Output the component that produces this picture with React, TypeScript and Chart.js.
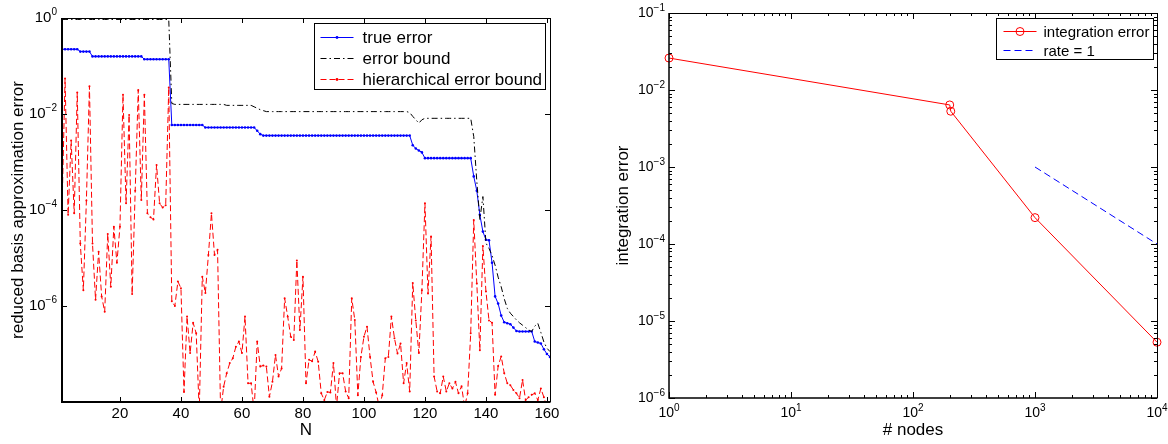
import React, { useEffect, useRef } from "react";
import { Chart, registerables } from "chart.js";

Chart.register(...registerables);

const FONT = '"Liberation Sans", Arial, Helvetica, sans-serif';
Chart.defaults.color = "#000";
Chart.defaults.font.family = FONT;

// ---------------- Left chart data ----------------
const N_VALUES: number[] = Array.from({ length: 161 }, (_, i) => i + 1);

// log10 of "true error"
const TRUE_ERROR_LOG10 = [
  -0.65, -0.65, -0.65, -0.65, -0.65, -0.65, -0.7, -0.7, -0.7, -0.7,
  -0.8, -0.8, -0.8, -0.8, -0.8, -0.8, -0.8, -0.8, -0.8, -0.8,
  -0.8, -0.8, -0.8, -0.8, -0.8, -0.8, -0.8, -0.86, -0.86, -0.86,
  -0.86, -0.86, -0.86, -0.86, -0.86, -0.86, -2.23, -2.23, -2.23, -2.23,
  -2.23, -2.23, -2.23, -2.23, -2.23, -2.23, -2.23, -2.28, -2.28, -2.28,
  -2.28, -2.28, -2.28, -2.28, -2.28, -2.28, -2.28, -2.28, -2.28, -2.28,
  -2.28, -2.28, -2.28, -2.28, -2.35, -2.42, -2.45, -2.45, -2.45, -2.45,
  -2.45, -2.45, -2.45, -2.45, -2.45, -2.45, -2.45, -2.45, -2.45, -2.45,
  -2.45, -2.45, -2.45, -2.45, -2.45, -2.45, -2.45, -2.45, -2.45, -2.45,
  -2.45, -2.45, -2.45, -2.45, -2.45, -2.45, -2.45, -2.45, -2.45, -2.45,
  -2.45, -2.45, -2.45, -2.45, -2.45, -2.45, -2.45, -2.45, -2.45, -2.45,
  -2.45, -2.45, -2.45, -2.45, -2.45, -2.65, -2.72, -2.76, -2.8, -2.92,
  -2.92, -2.92, -2.92, -2.92, -2.92, -2.92, -2.92, -2.92, -2.92, -2.92,
  -2.92, -2.92, -2.92, -2.92, -2.92, -3.3, -3.6, -4.1, -4.45, -4.62,
  -4.63, -5.1, -5.8, -5.95, -6.2, -6.34, -6.36, -6.38, -6.45, -6.52,
  -6.53, -6.53, -6.53, -6.53, -6.53, -6.74, -6.76, -6.78, -6.9, -7.0,
  -7.06,
];

// log10 of "error bound"
const ERROR_BOUND_LOG10 = [
  -0.03, -0.03, -0.03, -0.03, -0.03, -0.03, -0.03, -0.03, -0.03, -0.03,
  -0.03, -0.03, -0.03, -0.03, -0.03, -0.03, -0.03, -0.03, -0.03, -0.03,
  -0.03, -0.03, -0.03, -0.03, -0.03, -0.03, -0.03, -0.03, -0.03, -0.03,
  -0.03, -0.03, -0.03, -0.03, -0.03, -0.03, -1.78, -1.8, -1.8, -1.8,
  -1.8, -1.8, -1.8, -1.8, -1.8, -1.8, -1.8, -1.8, -1.8, -1.8,
  -1.8, -1.8, -1.8, -1.8, -1.82, -1.82, -1.82, -1.82, -1.82, -1.82,
  -1.82, -1.82, -1.82, -1.85, -1.88, -1.91, -1.93, -1.95, -1.95, -1.95,
  -1.95, -1.95, -1.95, -1.95, -1.95, -1.95, -1.95, -1.95, -1.95, -1.95,
  -1.95, -1.95, -1.95, -1.95, -1.95, -1.95, -1.95, -1.95, -1.95, -1.95,
  -1.95, -1.95, -1.95, -1.95, -1.95, -1.95, -1.95, -1.95, -1.95, -1.95,
  -1.95, -1.95, -1.95, -1.95, -1.95, -1.95, -1.95, -1.95, -1.95, -1.95,
  -1.95, -1.95, -1.95, -1.95, -1.97, -2.05, -2.12, -2.19, -2.12, -2.09,
  -2.09, -2.09, -2.09, -2.09, -2.09, -2.09, -2.09, -2.09, -2.09, -2.09,
  -2.09, -2.09, -2.09, -2.09, -2.09, -2.47, -3.4, -4.2, -3.72, -4.69,
  -4.8, -4.95, -5.15, -5.4, -5.6, -5.85, -6.05, -6.15, -6.22, -6.29,
  -6.35, -6.4, -6.45, -6.5, -6.53, -6.42, -6.36, -6.55, -6.75, -6.88,
  -6.95,
];

// log10 of "hierarchical error bound" (N = 1..160)
const HIER_BOUND_LOG10 = [
  -4.0, -1.26, -4.1, -2.55, -4.07, -1.55, -4.7, -5.67, -3.8, -1.42,
  -4.7, -5.87, -4.87, -5.8, -6.12, -4.5, -5.6, -4.35, -5.1, -4.35,
  -1.6, -3.86, -2.02, -5.75, -3.6, -1.5, -3.79, -1.6, -4.07, -4.15,
  -4.2, -3.06, -3.86, -3.95, -3.9, -1.45, -5.9, -6.0, -5.49, -5.63,
  -7.79, -6.22, -6.98, -6.35, -6.57, -8.2, -5.39, -5.73, -4.94, -4.07,
  -4.94, -4.83, -8.2, -7.68, -7.4, -7.19, -7.09, -6.85, -6.74, -6.98,
  -6.22, -7.61, -7.61, -8.2, -6.74, -7.26, -7.24, -7.26, -7.89, -7.58,
  -7.02, -7.47, -7.3, -5.84, -6.22, -6.64, -6.71, -5.05, -6.5, -5.39,
  -7.61, -7.12, -7.15, -6.95, -7.16, -7.82, -7.96, -7.79, -7.8, -7.19,
  -8.1, -7.4, -7.4, -7.78, -7.92, -5.84, -6.29, -7.86, -7.06, -6.64,
  -6.43, -7.06, -7.58, -7.8, -8.1, -7.86, -7.09, -7.06, -6.22, -6.67,
  -6.99, -6.78, -7.61, -7.19, -7.78, -5.52, -6.3, -6.98, -5.67, -3.86,
  -5.74, -4.55, -7.47, -7.78, -7.82, -7.47, -7.78, -7.61, -7.72, -7.58,
  -7.82, -7.67, -8.1, -7.82, -6.57, -4.21, -5.53, -6.92, -4.75, -5.7,
  -6.3, -6.35, -7.85, -7.25, -7.05, -7.4, -7.61, -7.65, -7.75, -7.82,
  -7.92, -7.54, -7.96, -7.9, -7.85, -7.82, -7.96, -7.72, -7.9, -8.1,
];

const LEFT_X_TICKS = [20, 40, 60, 80, 100, 120, 140, 160];
const LEFT_Y_TICK_EXP = [-8, -6, -4, -2, 0];
const LEFT_Y_LABEL_EXP = [-6, -4, -2, 0];
const LEFT_LEGEND = ["true error", "error bound", "hierarchical error bound"];

// ---------------- Right chart data ----------------
const NODES = [1, 200, 204, 1000, 10000];
const INTEGRATION_ERROR = [0.026, 0.0064, 0.0053, 0.00022, 0.0000053];
const RATE_NODES = [1000, 10000];
const RATE_VALUES = [0.001, 0.0001];
const RIGHT_X_TICK_EXP = [0, 1, 2, 3, 4];
const RIGHT_Y_TICK_EXP = [-6, -5, -4, -3, -2, -1];
const RIGHT_LEGEND = ["integration error", "rate = 1"];

const BLUE = "#0000ff";
const RED = "#ff0000";
const BLACK = "#000000";

function expText(e: number) {
  return e < 0 ? "\u2212" + String(-e) : String(e);
}

function minorLog(fromExp: number, toExp: number) {
  const out: number[] = [];
  for (let k = fromExp; k < toExp; k++) {
    for (let m = 2; m <= 9; m++) out.push(m * Math.pow(10, k));
  }
  return out;
}

type Lbl = { value: number; base: string; exp?: string };

function drawLabel(ctx: any, l: Lbl, x: number, y: number, align: string, bs: number, es: number, raise: number) {
  ctx.font = `${bs}px ${FONT}`;
  const wb = ctx.measureText(l.base).width;
  let we = 0;
  if (l.exp) {
    ctx.font = `${es}px ${FONT}`;
    we = ctx.measureText(l.exp).width;
  }
  const total = wb + we;
  const start = align === "right" ? x - total : x - total / 2;
  ctx.textAlign = "left";
  ctx.textBaseline = "middle";
  ctx.font = `${bs}px ${FONT}`;
  ctx.fillText(l.base, start, y);
  if (l.exp) {
    ctx.font = `${es}px ${FONT}`;
    ctx.fillText(l.exp, start + wb, y - raise);
  }
}

function axesPlugin(cfg: any) {
  return {
    id: "matlabAxes",
    afterDatasetsDraw(chart: any) {
      const { ctx, chartArea: a, scales } = chart;
      const xs = scales.x;
      const ys = scales.y;
      ctx.save();
      ctx.strokeStyle = BLACK;
      ctx.lineWidth = 1;
      ctx.setLineDash([]);
      ctx.beginPath();
      const tx = (v: number, len: number) => {
        const p = Math.round(xs.getPixelForValue(v)) + 0.5;
        ctx.moveTo(p, a.bottom);
        ctx.lineTo(p, a.bottom - len);
        ctx.moveTo(p, a.top);
        ctx.lineTo(p, a.top + len);
      };
      const ty = (v: number, len: number) => {
        const p = Math.round(ys.getPixelForValue(v)) + 0.5;
        ctx.moveTo(a.left, p);
        ctx.lineTo(a.left + len, p);
        ctx.moveTo(a.right, p);
        ctx.lineTo(a.right - len, p);
      };
      cfg.xMajor.forEach((v: number) => tx(v, cfg.majorLen));
      cfg.xMinor.forEach((v: number) => tx(v, cfg.minorLen));
      cfg.yMajor.forEach((v: number) => ty(v, cfg.majorLen));
      cfg.yMinor.forEach((v: number) => ty(v, cfg.minorLen));
      ctx.stroke();

      // frame
      ctx.lineWidth = 1;
      ctx.beginPath();
      ctx.moveTo(a.left, Math.round(a.top) + 0.5);
      ctx.lineTo(a.right, Math.round(a.top) + 0.5);
      ctx.moveTo(Math.round(a.right) + 0.5, a.top);
      ctx.lineTo(Math.round(a.right) + 0.5, a.bottom);
      ctx.stroke();
      ctx.lineWidth = cfg.thick;
      ctx.beginPath();
      ctx.moveTo(a.left, a.top);
      ctx.lineTo(a.left, a.bottom);
      ctx.lineTo(a.right + 0.5, a.bottom);
      ctx.stroke();

      // tick labels
      ctx.fillStyle = BLACK;
      cfg.xLabels.forEach((l: Lbl) => {
        drawLabel(ctx, l, xs.getPixelForValue(l.value), a.bottom + cfg.xLabelOffset, "center", cfg.baseSize, cfg.expSize, cfg.raise);
      });
      cfg.yLabels.forEach((l: Lbl) => {
        drawLabel(ctx, l, a.left - cfg.yLabelGap, ys.getPixelForValue(l.value), "right", cfg.baseSize, cfg.expSize, cfg.raise);
      });
      ctx.restore();
    },
  };
}

function legendPlugin(cfg: any) {
  return {
    id: "boxLegend",
    afterDraw(chart: any) {
      const { ctx, chartArea: a } = chart;
      ctx.save();
      ctx.font = `${cfg.fontSize}px ${FONT}`;
      const tw = Math.max(...cfg.items.map((it: any) => ctx.measureText(it.label).width));
      const w = Math.round(cfg.textOffset + tw + cfg.padRight);
      const h = Math.round(cfg.rowFirst + cfg.rowStep * (cfg.items.length - 1) + cfg.padBottom);
      const x0 = Math.round(a.right - cfg.rightInset - w) + 0.5;
      const y0 = Math.round(a.top + cfg.topInset) + 0.5;
      ctx.fillStyle = "#fff";
      ctx.fillRect(x0, y0, w, h);
      ctx.strokeStyle = BLACK;
      ctx.lineWidth = 1;
      ctx.setLineDash([]);
      ctx.strokeRect(x0, y0, w, h);
      cfg.items.forEach((it: any, i: number) => {
        const cy = Math.round(y0 + cfg.rowFirst + i * cfg.rowStep) + 0.5;
        const sx = x0 + cfg.sampleStart;
        ctx.strokeStyle = it.color;
        ctx.lineWidth = 1;
        ctx.setLineDash(it.dash || []);
        ctx.beginPath();
        ctx.moveTo(sx, cy);
        ctx.lineTo(sx + cfg.sampleLen, cy);
        ctx.stroke();
        ctx.setLineDash([]);
        const mx = sx + cfg.sampleLen / 2;
        if (it.marker === "dot") {
          ctx.fillStyle = it.color;
          ctx.beginPath();
          ctx.arc(mx, cy, 1.4, 0, Math.PI * 2);
          ctx.fill();
        } else if (it.marker === "circle") {
          ctx.beginPath();
          ctx.arc(mx, cy, 4, 0, Math.PI * 2);
          ctx.stroke();
        }
        ctx.fillStyle = BLACK;
        ctx.font = `${cfg.fontSize}px ${FONT}`;
        ctx.textAlign = "left";
        ctx.textBaseline = "middle";
        ctx.fillText(it.label, x0 + cfg.textOffset, cy + 1);
      });
      ctx.restore();
    },
  };
}

function leftConfig(): any {
  const pts = (arr: number[]) => arr.map((e, i) => ({ x: N_VALUES[i], y: Math.pow(10, e) }));
  return {
    type: "line",
    data: {
      datasets: [
        {
          label: LEFT_LEGEND[0],
          data: pts(TRUE_ERROR_LOG10),
          borderColor: BLUE,
          borderWidth: 1,
          pointRadius: 1.3,
          pointBackgroundColor: BLUE,
          pointBorderWidth: 0,
          order: 3,
        },
        {
          label: LEFT_LEGEND[1],
          data: pts(ERROR_BOUND_LOG10),
          borderColor: BLACK,
          borderWidth: 1,
          borderDash: [6, 3, 1.5, 3],
          pointRadius: 0,
          order: 2,
        },
        {
          label: LEFT_LEGEND[2],
          data: pts(HIER_BOUND_LOG10),
          borderColor: RED,
          borderWidth: 1,
          borderDash: [6, 3],
          pointRadius: 1,
          pointBackgroundColor: RED,
          pointBorderWidth: 0,
          order: 1,
        },
      ],
    },
    options: {
      animation: false,
      responsive: false,
      layout: { padding: { left: 0, right: 25, top: 18, bottom: 0 } },
      plugins: { legend: { display: false }, tooltip: { enabled: false } },
      elements: { line: { tension: 0 } },
      scales: {
        x: {
          type: "linear",
          min: 1,
          max: 161,
          grid: { display: false },
          border: { display: false },
          ticks: { display: false },
          title: { display: true, text: "N", font: { size: 17, family: FONT }, color: BLACK, padding: { top: 0, bottom: 3 } },
          afterFit: (s: any) => { s.height = 42; },
        },
        y: {
          type: "logarithmic",
          min: 1e-8,
          max: 1,
          grid: { display: false },
          border: { display: false },
          ticks: { display: false },
          title: { display: true, text: "reduced basis approximation error", font: { size: 17, family: FONT }, color: BLACK, padding: { top: 8, bottom: 0 } },
          afterFit: (s: any) => { s.width = 62; },
        },
      },
    },
    plugins: [
      axesPlugin({
        xMajor: LEFT_X_TICKS,
        xMinor: [],
        yMajor: LEFT_Y_TICK_EXP.map((e) => Math.pow(10, e)),
        yMinor: [],
        majorLen: 5,
        minorLen: 3,
        thick: 2,
        xLabels: LEFT_X_TICKS.map((v) => ({ value: v, base: String(v) })),
        yLabels: LEFT_Y_LABEL_EXP.map((e) => ({ value: Math.pow(10, e), base: "10", exp: expText(e) })),
        baseSize: 15,
        expSize: 10,
        raise: 6,
        xLabelOffset: 12,
        yLabelGap: 5,
      }),
      legendPlugin({
        items: [
          { label: LEFT_LEGEND[0], color: BLUE, marker: "dot" },
          { label: LEFT_LEGEND[1], color: BLACK, dash: [6, 3, 1.5, 3] },
          { label: LEFT_LEGEND[2], color: RED, dash: [6, 3], marker: "dot" },
        ],
        fontSize: 17,
        rightInset: 5,
        topInset: 5,
        textOffset: 48,
        padRight: 3,
        rowFirst: 13,
        rowStep: 21,
        padBottom: 11,
        sampleStart: 6,
        sampleLen: 33,
      }),
    ],
  };
}

function rightConfig(): any {
  return {
    type: "line",
    data: {
      datasets: [
        {
          label: RIGHT_LEGEND[0],
          data: NODES.map((n, i) => ({ x: n, y: INTEGRATION_ERROR[i] })),
          borderColor: RED,
          borderWidth: 1,
          pointRadius: 4,
          pointStyle: "circle",
          pointBorderColor: RED,
          pointBackgroundColor: "rgba(0,0,0,0)",
          pointBorderWidth: 1,
          clip: false,
        },
        {
          label: RIGHT_LEGEND[1],
          data: RATE_NODES.map((n, i) => ({ x: n, y: RATE_VALUES[i] })),
          borderColor: BLUE,
          borderWidth: 1,
          borderDash: [7, 4],
          pointRadius: 0,
        },
      ],
    },
    options: {
      animation: false,
      responsive: false,
      layout: { padding: { left: 0, right: 11, top: 13, bottom: 0 } },
      plugins: { legend: { display: false }, tooltip: { enabled: false } },
      elements: { line: { tension: 0 } },
      scales: {
        x: {
          type: "logarithmic",
          min: 1,
          max: 10000,
          grid: { display: false },
          border: { display: false },
          ticks: { display: false },
          title: { display: true, text: "# nodes", font: { size: 17, family: FONT }, color: BLACK, padding: { top: 0, bottom: 3 } },
          afterFit: (s: any) => { s.height = 46; },
        },
        y: {
          type: "logarithmic",
          min: 1e-6,
          max: 1e-1,
          grid: { display: false },
          border: { display: false },
          ticks: { display: false },
          title: { display: true, text: "integration error", font: { size: 17, family: FONT }, color: BLACK, padding: { top: 28, bottom: 0 } },
          afterFit: (s: any) => { s.width = 84; },
        },
      },
    },
    plugins: [
      axesPlugin({
        xMajor: RIGHT_X_TICK_EXP.map((e) => Math.pow(10, e)),
        xMinor: minorLog(0, 4),
        yMajor: RIGHT_Y_TICK_EXP.map((e) => Math.pow(10, e)),
        yMinor: minorLog(-6, -1),
        majorLen: 6,
        minorLen: 3,
        thick: 1.5,
        xLabels: RIGHT_X_TICK_EXP.map((e) => ({ value: Math.pow(10, e), base: "10", exp: expText(e) })),
        yLabels: RIGHT_Y_TICK_EXP.map((e) => ({ value: Math.pow(10, e), base: "10", exp: expText(e) })),
        baseSize: 14,
        expSize: 10,
        raise: 5,
        xLabelOffset: 15,
        yLabelGap: 4,
      }),
      legendPlugin({
        items: [
          { label: RIGHT_LEGEND[0], color: RED, marker: "circle" },
          { label: RIGHT_LEGEND[1], color: BLUE, dash: [7, 4] },
        ],
        fontSize: 15,
        rightInset: 4,
        topInset: 5,
        textOffset: 47,
        padRight: 4,
        rowFirst: 12,
        rowStep: 19,
        padBottom: 10,
        sampleStart: 7,
        sampleLen: 33,
      }),
    ],
  };
}

function ChartCanvas(props: { left: number; width: number; height: number; build: () => any }) {
  const ref = useRef<HTMLCanvasElement | null>(null);
  useEffect(() => {
    if (!ref.current) return;
    const chart = new Chart(ref.current, props.build());
    return () => chart.destroy();
  }, []);
  return (
    <canvas
      ref={ref}
      width={props.width}
      height={props.height}
      style={{ position: "absolute", left: props.left, top: 0, width: props.width, height: props.height }}
    />
  );
}

export default function App() {
  return (
    <div style={{ position: "fixed", left: 0, top: 0, width: 1168, height: 444, background: "#fff", overflow: "hidden" }}>
      <ChartCanvas left={0} width={575} height={444} build={leftConfig} />
      <ChartCanvas left={585} width={583} height={444} build={rightConfig} />
    </div>
  );
}
